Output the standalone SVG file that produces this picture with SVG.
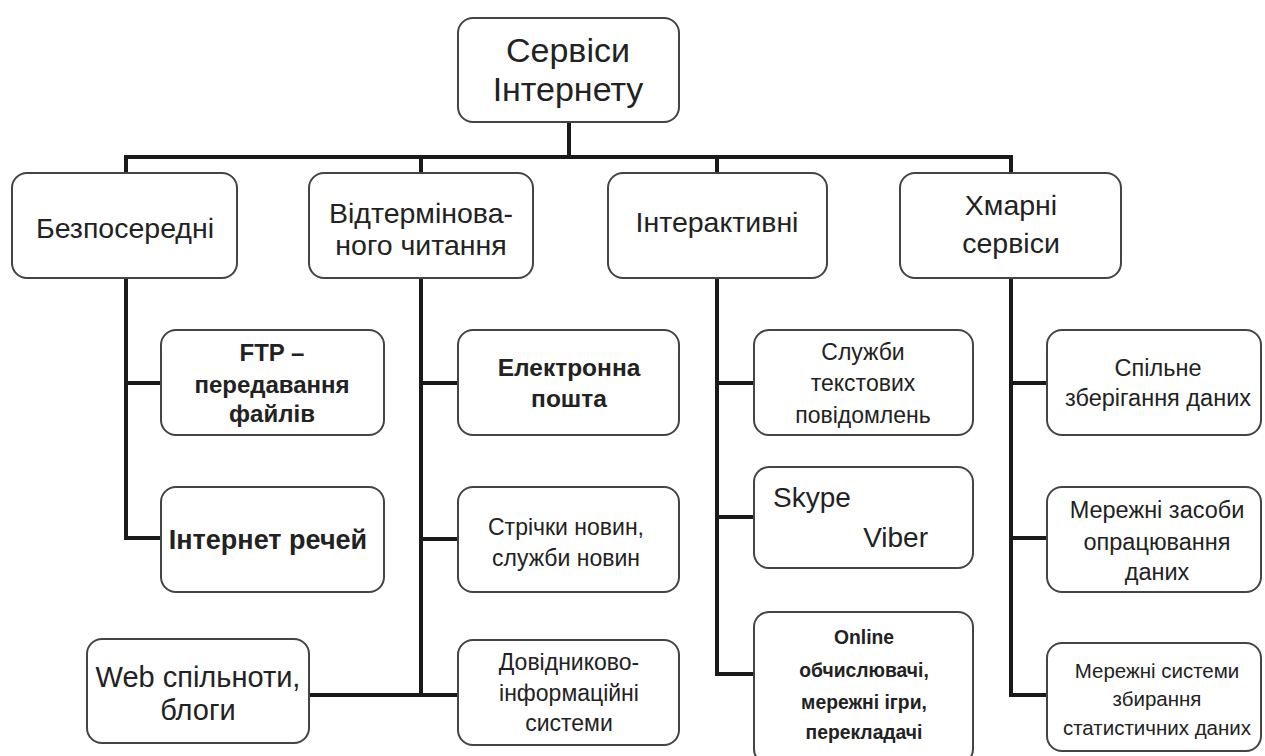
<svg xmlns="http://www.w3.org/2000/svg" width="1265" height="756" viewBox="0 0 1265 756">
<style>
.box{fill:#fff;stroke:#444;stroke-width:2}
.ln{fill:none;stroke:#1a1a1a;stroke-width:4;stroke-linejoin:miter;stroke-linecap:square}
text{font-family:"Liberation Sans",Arial,sans-serif;fill:#222;text-anchor:middle;dominant-baseline:central}
.t0{font-size:34px}
.t1{font-size:28.5px}
.b{font-weight:bold}
.st{text-anchor:start}
.en{text-anchor:end}
</style>
<rect width="1265" height="756" fill="#fff"/>
<g id="connectors">
<path class="ln" d="M569 122V157M126 157H1011M126 157V173M421 157V173M717 157V173M1011 157V173"/>
<path class="ln" d="M126 278V538H161M126 383H161"/>
<path class="ln" d="M421 278V695M421 383H458M421 539H458M309 695H458"/>
<path class="ln" d="M717 278V674H754M717 383H754M717 517H754"/>
<path class="ln" d="M1011 278V695H1047M1011 383H1047M1011 538H1047"/>
</g>
<g id="root"><rect class="box" x="458" y="18" width="221" height="104" rx="15"/><text class="t0" x="568" y="50">Сервіси</text><text class="t0" x="568" y="89">Інтернету</text></g>
<g id="n-bezpos"><rect class="box" x="12" y="173" width="225" height="105" rx="15"/><text class="t1" x="125" y="228">Безпосередні</text></g>
<g id="n-vidterm"><rect class="box" x="309" y="173" width="224" height="105" rx="15"/><text class="t1" x="421" y="213">Відтермінова-</text><text class="t1" x="421" y="245">ного читання</text></g>
<g id="n-interakt"><rect class="box" x="608" y="173" width="219" height="105" rx="15"/><text class="t1" x="717" y="222">Інтерактивні</text></g>
<g id="n-hmarni"><rect class="box" x="900" y="173" width="221" height="105" rx="15"/><text class="t1" x="1011" y="205">Хмарні</text><text class="t1" x="1011" y="243">сервіси</text></g>

<g id="n-ftp"><rect class="box" x="161" y="330" width="223" height="105" rx="15"/><text class="b" font-size="24" x="272" y="352">FTP –</text><text class="b" font-size="24" x="272" y="384">передавання</text><text class="b" font-size="24" x="272" y="413">файлів</text></g>
<g id="n-iot"><rect class="box" x="161" y="487" width="223" height="105" rx="15"/><text class="b" font-size="27" x="268" y="540">Інтернет речей</text></g>
<g id="n-web"><rect class="box" x="87" y="639" width="222" height="104" rx="15"/><text font-size="29" x="198" y="677">Web спільноти,</text><text font-size="29" x="198" y="710">блоги</text></g>

<g id="n-email"><rect class="box" x="458" y="330" width="221" height="105" rx="15"/><text class="b" font-size="24.5" x="569" y="367">Електронна</text><text class="b" font-size="24.5" x="569" y="398">пошта</text></g>
<g id="n-news"><rect class="box" x="458" y="487" width="221" height="105" rx="15"/><text font-size="23" x="566" y="527">Стрічки новин,</text><text font-size="23" x="566" y="558">служби новин</text></g>
<g id="n-dovid"><rect class="box" x="458" y="640" width="221" height="105" rx="15"/><text font-size="23" x="569" y="662">Довідниково-</text><text font-size="23" x="569" y="693">інформаційні</text><text font-size="23" x="569" y="723">системи</text></g>

<g id="n-sluzhby"><rect class="box" x="754" y="330" width="219" height="105" rx="15"/><text font-size="23" x="863" y="352">Служби</text><text font-size="23" x="863" y="383">текстових</text><text font-size="23" x="863" y="415">повідомлень</text></g>
<g id="n-skype"><rect class="box" x="754" y="467" width="219" height="101" rx="15"/><text class="st" font-size="28" x="773" y="497">Skype</text><text class="en" font-size="28" x="928" y="537">Viber</text></g>
<g id="n-online"><rect class="box" x="754" y="612" width="219" height="152" rx="15"/><g transform="translate(864 0) scale(0.92 1) translate(-864 0)"><text class="b" font-size="21" x="864" y="637">Online</text><text class="b" font-size="21" x="864" y="670">обчислювачі,</text><text class="b" font-size="21" x="864" y="702">мережні ігри,</text><text class="b" font-size="21" x="864" y="732">перекладачі</text></g></g>

<g id="n-spilne"><rect class="box" x="1047" y="330" width="214" height="105" rx="15"/><text font-size="23.5" x="1158" y="368">Спільне</text><text font-size="23.5" x="1158" y="398">зберігання даних</text></g>
<g id="n-zasoby"><rect class="box" x="1047" y="487" width="214" height="105" rx="15"/><text font-size="23.5" x="1157" y="510">Мережні засоби</text><text font-size="23.5" x="1157" y="542">опрацювання</text><text font-size="23.5" x="1157" y="572">даних</text></g>
<g id="n-systemy"><rect class="box" x="1047" y="643" width="214" height="108" rx="15"/><text font-size="20.5" x="1157" y="670">Мережні системи</text><text font-size="20.5" x="1157" y="698">збирання</text><text font-size="20.5" x="1157" y="727">статистичних даних</text></g>
</svg>
